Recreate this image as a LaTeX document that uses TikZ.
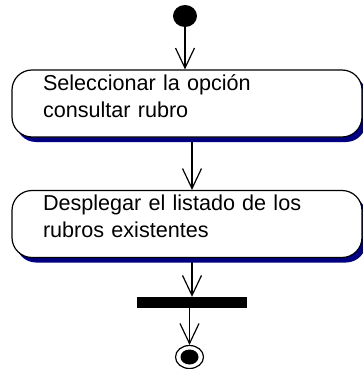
\documentclass[tikz,border=0pt]{standalone}
\usepackage{fontspec}
\setmainfont{Liberation Sans}
\usepackage{xcolor}
\usetikzlibrary{shapes.geometric, arrows.meta, positioning, shadows, backgrounds}
\definecolor{shadownavy}{RGB}{0,0,128}

\begin{document}
\begin{tikzpicture}[
    x=1pt, y=1pt,
    startst/.style={ellipse, fill=black, inner sep=0pt, minimum width=24pt, minimum height=22pt},
    actbox/.style={rectangle, draw=black, line width=1.2pt, fill=white, rounded corners=20pt,
        drop shadow={shadow xshift=4pt, shadow yshift=-5pt, fill=shadownavy, opacity=1},
        text width=288pt, inner xsep=31pt, inner ysep=0pt, minimum height=67pt,
        text height=20pt, text depth=47pt, align=left, font=\fontsize{21.6}{27}\selectfont},
    syncbar/.style={rectangle, fill=black, inner sep=0pt, minimum width=110pt, minimum height=11pt},
    endst/.style={ellipse, draw=black, line width=1.2pt, inner sep=0pt, minimum width=28pt, minimum height=23pt},
    endcore/.style={ellipse, fill=black, inner sep=0pt, minimum width=18pt, minimum height=15pt},
    arrow/.style={-{Straight Barb[length=20pt, width=19pt]}, line width=1.2pt, black}
]
\useasboundingbox (0,0) rectangle (363,-369);
\node[startst] (start) at (185,-16) {};
\node[actbox] (select) at (187,-103.5) {Seleccionar la opción\\consultar rubro};
\node[actbox] (list) at (187,-224) {Desplegar el listado de los\\rubros existentes};
\node[syncbar] (bar) at (192,-302.5) {};
\node[endst] (finish) at (189.5,-357) {};
\node[endcore] (finishcore) at (finish) {};

% connectors behind the boxes and their shadows
\begin{scope}[on background layer]
\draw[arrow] (start) -- (start |- select.north);
\draw[arrow] (select.south -| bar) -- (list.north -| bar);
\draw[arrow] (list.south -| bar) -- (bar.north);
\draw[arrow] (bar.south -| finish) -- (finish.north);
\end{scope}
\end{tikzpicture}
\end{document}
